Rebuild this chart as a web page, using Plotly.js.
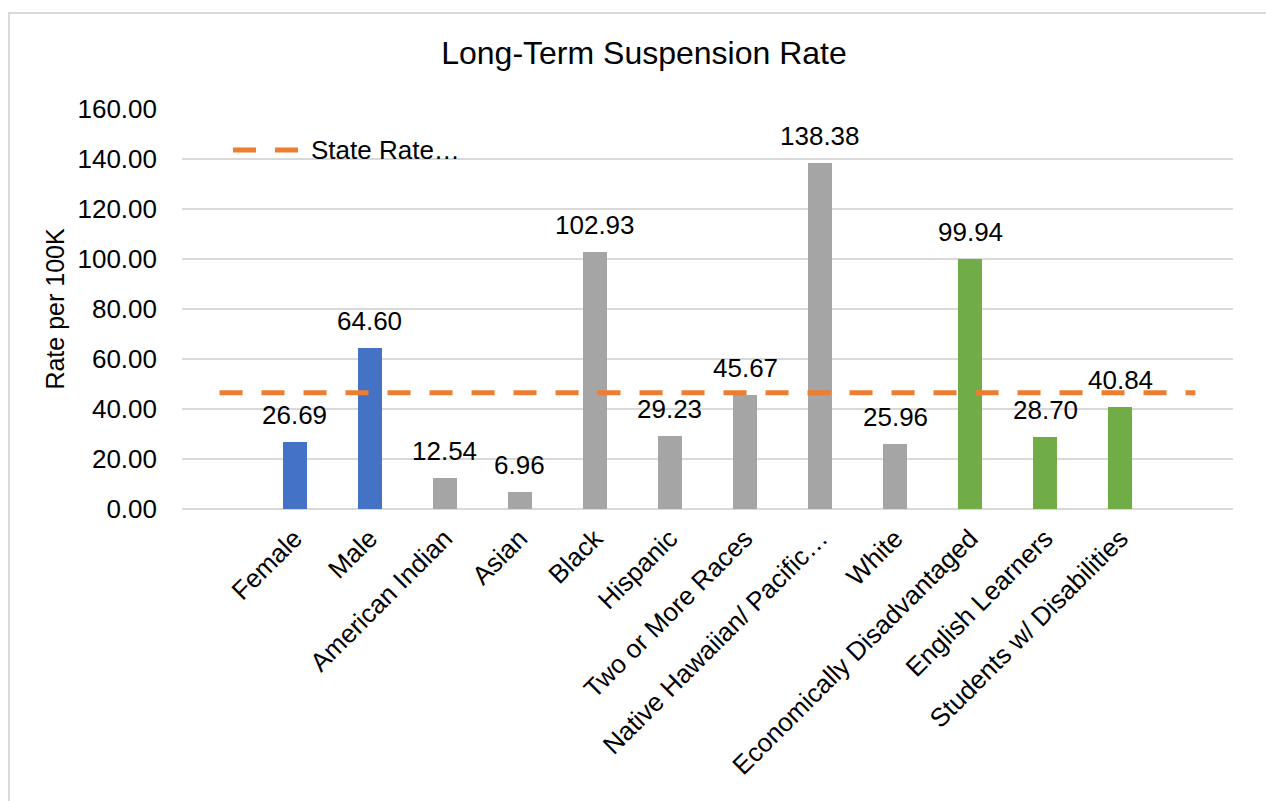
<!DOCTYPE html>
<html>
<head>
<meta charset="utf-8">
<script src="https://cdn.plot.ly/plotly-3.0.1.min.js"></script>
<style>
  html, body { margin: 0; padding: 0; background: #fff; }
  #wrap { position: relative; width: 1266px; height: 801px; overflow: hidden; }
  #chart { position: absolute; left: 0; top: 0; width: 1266px; height: 801px; }
  #frame { position: absolute; left: 8px; top: 12px; width: 1400px; height: 900px;
           border-top: 2px solid #d9d9d9; border-left: 2px solid #d9d9d9; pointer-events: none; }
</style>
</head>
<body>
<div id="wrap">
  <div id="chart"></div>
  <div id="frame"></div>
</div>
<script>
// ---- data ----
const categories = ["", "Female", "Male", "American Indian", "Asian", "Black", "Hispanic",
  "Two or More Races", "Native Hawaiian/ Pacific…", "White", "Economically Disadvantaged",
  "English Learners", "Students w/ Disabilities", " "];

const genderCats = ["Female", "Male"];
const genderVals = [26.69, 64.60];

const raceCats = ["American Indian", "Asian", "Black", "Hispanic", "Two or More Races",
  "Native Hawaiian/ Pacific…", "White"];
const raceVals = [12.54, 6.96, 102.93, 29.23, 45.67, 138.38, 25.96];

const programCats = ["Economically Disadvantaged", "English Learners", "Students w/ Disabilities"];
const programVals = [99.94, 28.70, 40.84];

const stateRateName = "State Rate…";
const stateRateVals = [46.5, 46.5, 46.5, 46.5, 46.5, 46.5, 46.5, 46.5, 46.5, 46.5, 46.5, 46.5, 46.5, 46.5];

const chartTitle = "Long-Term Suspension Rate";
const yTitle = "Rate per 100K";

// ---- chart ----
const FONT = "Liberation Sans, Arial, sans-serif";
const barWidth = 0.32;
const TXT = 26;

function barTrace(x, y, color) {
  return {
    type: "bar", x: x, y: y, width: barWidth,
    marker: { color: color, line: { width: 0 } },
    showlegend: false, hoverinfo: "x+y"
  };
}

const traces = [
  barTrace(genderCats, genderVals, "#4472C4"),
  barTrace(raceCats, raceVals, "#A5A5A5"),
  barTrace(programCats, programVals, "#70AD47"),
  {
    type: "scatter", mode: "lines", x: categories, y: stateRateVals,
    name: stateRateName, showlegend: false,
    line: { color: "#ED7D31", width: 5, dash: "23px,19px" }
  }
];

const annotations = [];
function addLabels(cats, vals) {
  cats.forEach((c, i) => {
    annotations.push({
      x: c, y: vals[i], xref: "x", yref: "y", text: vals[i].toFixed(2),
      showarrow: false, yanchor: "bottom", yshift: 10,
      font: { family: FONT, size: TXT, color: "#000" }
    });
  });
}
addLabels(genderCats, genderVals);
addLabels(raceCats, raceVals);
addLabels(programCats, programVals);

// manual legend text
annotations.push({
  xref: "paper", yref: "paper", x: (309 - 182) / 1051, y: (509 - 150) / 400,
  xanchor: "left", yanchor: "middle", text: stateRateName, showarrow: false,
  font: { family: FONT, size: TXT, color: "#000" }
});

const shapes = [{
  type: "line", xref: "paper", yref: "paper",
  x0: (233 - 182) / 1051, x1: (303 - 182) / 1051,
  y0: (509 - 150) / 400, y1: (509 - 150) / 400,
  line: { color: "#ED7D31", width: 5, dash: "23px,19px" }
}];

const layout = {
  width: 1266, height: 801,
  margin: { l: 182, r: 33, t: 109, b: 292 },
  paper_bgcolor: "#fff", plot_bgcolor: "#fff",
  font: { family: FONT, size: TXT, color: "#000" },
  title: {
    text: chartTitle, x: 644 / 1266, xanchor: "center", xref: "container",
    y: 1 - 53 / 801, yref: "container", yanchor: "middle",
    font: { family: FONT, size: 32, color: "#000" }
  },
  barmode: "overlay",
  bargap: 0,
  xaxis: {
    type: "category", categoryorder: "array", categoryarray: categories,
    range: [-0.5, 13.5], tickangle: -45, showgrid: false, zeroline: false,
    showline: false, ticks: "", ticklabelstandoff: 8,
    tickfont: { family: FONT, size: TXT, color: "#000" }
  },
  yaxis: {
    range: [0, 160], dtick: 20, tickformat: ".2f",
    showgrid: true, gridcolor: "#d9d9d9", gridwidth: 1.5,
    zeroline: true, zerolinecolor: "#d9d9d9", zerolinewidth: 1.5,
    showline: false, ticks: "", ticklabelstandoff: 24,
    tickfont: { family: FONT, size: TXT, color: "#000" },
    title: { text: yTitle, standoff: 5, font: { family: FONT, size: 25, color: "#000" } }
  },
  annotations: annotations,
  shapes: shapes,
  showlegend: false
};

Plotly.newPlot("chart", traces, layout, { staticPlot: true, displayModeBar: false });
</script>
</body>
</html>
